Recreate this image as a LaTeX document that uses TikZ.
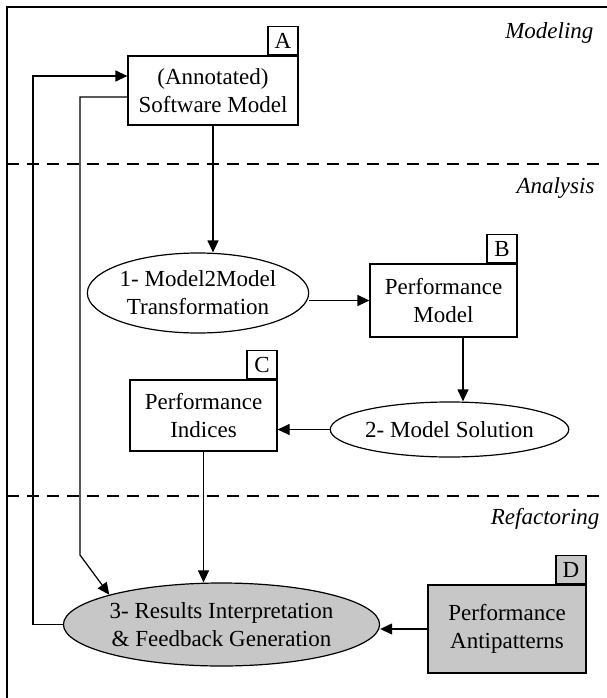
\documentclass[tikz,border=0pt]{standalone}
\usepackage{fontspec}
\setmainfont{Liberation Serif}
\usetikzlibrary{arrows.meta,shapes.geometric,positioning}

\tikzset{
  box/.style={draw, line width=1.2pt, minimum width=#1, align=center, inner sep=0pt},
  tag/.style={draw, line width=1.2pt, minimum width=30pt, minimum height=28.5pt, inner sep=0pt, anchor=south east},
  activity/.style={draw, ellipse, line width=1.2pt, align=center, inner sep=0pt},
  link/.style={line width=1.2pt, -{Triangle[length=12pt,width=11pt]}},
  phase/.style={anchor=base east, font=\fontsize{23}{28}\selectfont\itshape},
  lane/.style={line width=1.1pt, dash pattern=on 12pt off 8pt}
}

\begin{document}
\begin{tikzpicture}[x=1pt, y=-1pt, font=\fontsize{23}{28}\selectfont]

\useasboundingbox (0,0) rectangle (607,698);

% frame
\draw[line width=1.2pt] (7,7) rectangle (615,705);

% phases
\draw[lane] (7,164) -- (607,164);
\draw[lane] (7,496) -- (607,496);
\node[phase] (modeling) at (597,39) {Modeling};
\node[phase] (analysis) at (598,193) {Analysis};
\node[phase] (refactoring) at (603,524) {Refactoring};

% Modeling
\node[box=170pt, minimum height=69pt] (A) at (213,90.5) {(Annotated)\\Software Model};
\node[tag] (tagA) at (A.north east) {A};

% Analysis
\node[activity, minimum width=210pt, minimum height=80pt] (E1) at (198,293) {1- Model2Model\\Transformation};
\node[box=147pt, minimum height=73pt] (B) at (443.5,300.5) {Performance\\Model};
\node[tag] (tagB) at (B.north east) {B};
\node[activity, minimum width=217pt, minimum height=55pt] (E2) at (449.5,429.5) {2- Model Solution};
\node[box=147pt, minimum height=71pt] (C) at (203.5,415.5) {Performance\\Indices};
\node[tag] (tagC) at (C.north east) {C};

% Refactoring
\node[activity, fill=black!22, minimum width=283pt, minimum height=83pt] (E3) at (221.5,624.5) {3- Results Interpretation\\\& Feedback Generation};
\node[box=158pt, minimum height=88pt, fill=black!22] (D) at (507,629) {Performance\\Antipatterns};
\node[tag, fill=black!22] (tagD) at (D.north east) {D};

\coordinate (fbIn) at (80,555);
\coordinate (fbOut) at (33,76);

% flow
\draw[link] (A.south) -- (A.south |- E1.north);
\draw[link] (B.west -| E1.east) -- (B.west);
\draw[link] ([xshift=19.5pt]B.south) -- ([xshift=19.5pt]B.south |- E2.north);
\draw[link] (E2.west) -- (E2.west -| C.east);
\draw[link] (C.south) -- (C.south |- E3.north);
\draw[link] (D.west) -- (D.west -| E3.east);

% feedback
\draw[link] ([yshift=-6.5pt]A.west) -| (fbIn) -- (E3.north west);
\draw[link] (E3.west) -| (fbOut) -- ([yshift=14.5pt]A.west);

\end{tikzpicture}
\end{document}
